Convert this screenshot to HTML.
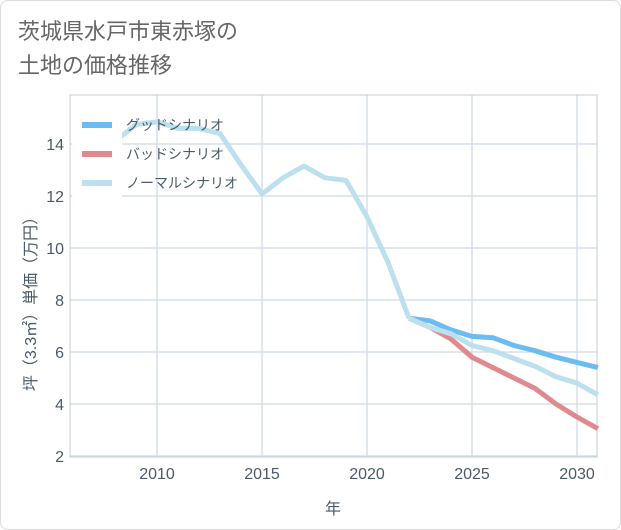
<!DOCTYPE html>
<html><head><meta charset="utf-8"><style>
body{margin:0;background:#fff;}
#wrap{position:relative;width:619px;height:528px;border:1px solid #ddd;border-radius:8px;background:#fff;overflow:hidden;}
#title{position:absolute;left:17px;top:14px;font:22px "Liberation Sans","Noto Sans CJK JP",sans-serif;color:#666;line-height:34px;margin:0;font-weight:normal;}
svg text{font-family:"Liberation Sans","Noto Sans CJK JP",sans-serif;}
</style></head><body>
<div id="wrap">
<h1 id="title">茨城県水戸市東赤塚の<br>土地の価格推移</h1>
<svg id="chart" width="621" height="530" style="position:absolute;left:-1px;top:-1px"></svg>
</div>
<script>
const years=[2008,2009,2010,2011,2012,2013,2014,2015,2016,2017,2018,2019,2020,2021,2022];
const history=[14.1,14.75,14.85,14.6,14.6,14.4,13.2,12.08,12.7,13.15,12.7,12.6,11.2,9.45,7.3];
const futureYears=[2022,2023,2024,2025,2026,2027,2028,2029,2030,2031];
const good=[7.3,7.2,6.85,6.6,6.55,6.25,6.05,5.8,5.6,5.4];
const bad=[7.3,6.95,6.5,5.8,5.4,5.0,4.6,4.0,3.5,3.05];
const normal=[7.3,6.95,6.7,6.25,6.05,5.75,5.45,5.05,4.8,4.35];
const xTicks=[2010,2015,2020,2025,2030];
const yTicks=[2,4,6,8,10,12,14];
const NS='http://www.w3.org/2000/svg';
const svg=document.getElementById('chart');
const L=70,R=597,T=95,B=457;
const x=v=>157+(v-2010)*21;
const y=v=>456-(v-2)*26;
function mk(t,a){const e=document.createElementNS(NS,t);for(const k in a)e.setAttribute(k,a[k]);svg.appendChild(e);return e;}
for(const t of yTicks){const l=mk('line',{x1:L,x2:R,y1:y(t),y2:y(t),stroke:'#d5dfe8','stroke-width':1.5});


const tx=mk('text',{x:L-6,y:y(t)+6,'text-anchor':'end','font-size':16,fill:'#4a5a6a'});tx.textContent=t;

}
for(const t of xTicks){const l=mk('line',{x1:x(t),x2:x(t),y1:T,y2:B,stroke:'#d5dfe8','stroke-width':1.5});


const tx=mk('text',{x:x(t),y:B+22,'text-anchor':'middle','font-size':16,fill:'#4a5a6a'});tx.textContent=t;

}
const fr=mk('rect',{x:L,y:T,width:R-L,height:B-T,fill:'none',stroke:'#c0ccd8','stroke-width':1});


function line(xs,vs,c,name){const p=mk('polyline',{points:xs.map((v,i)=>x(v)+','+y(vs[i])).join(' '),fill:'none',stroke:c,'stroke-width':5,'stroke-linejoin':'round'});

}
svg.appendChild(document.createElementNS(NS,'g'));
line(futureYears,good,'#6bbcf2','good-scenario-line');
line(futureYears,bad,'#e08a90','bad-scenario-line');
line(futureYears,normal,'#bde0ee','normal-scenario-line');
line(years,history,'#bde0ee','history-line');
const lb=mk('rect',{x:72,y:108,width:50,height:90,fill:'#fff'});


const leg=[['グッドシナリオ','#6bbcf2'],['バッドシナリオ','#e08a90'],['ノーマルシナリオ','#bde0ee']];
leg.forEach((d,i)=>{const yy=125+i*29;
const s=mk('line',{x1:82,x2:112,y1:yy,y2:yy,stroke:d[1],'stroke-width':6});


const t=mk('text',{x:126,y:yy+5,'font-size':14,fill:'#4a5a6a'});t.textContent=d[0];

});
const xt=mk('text',{x:333,y:514,'text-anchor':'middle','font-size':16,fill:'#4a5a6a'});xt.textContent='年';


const yt=mk('text',{x:0,y:0,'text-anchor':'middle','font-size':16,fill:'#4a5a6a',transform:'translate(36,300) rotate(-90)'});yt.textContent='坪（3.3㎡）単価（万円）';


</script>
</body></html>
